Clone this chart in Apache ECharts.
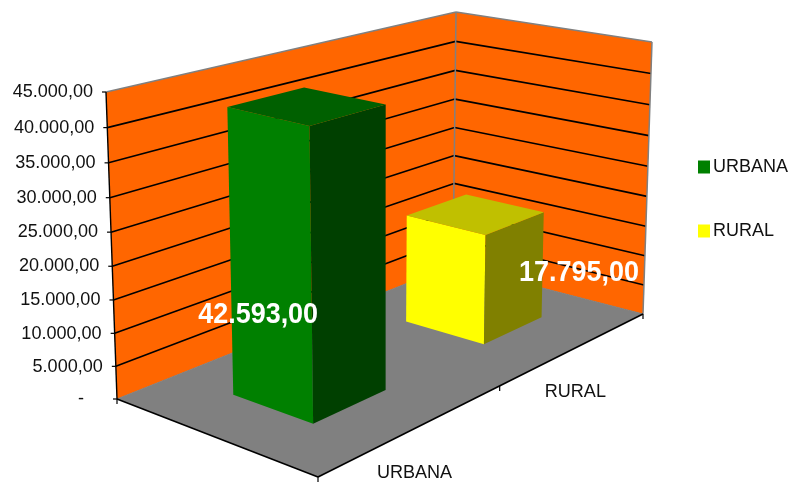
<!DOCTYPE html>
<html><head><meta charset="utf-8">
<style>html,body{margin:0;padding:0;background:#fff}#c{width:790px;height:483px}</style>
<script src="https://cdn.jsdelivr.net/npm/echarts@6/dist/echarts.min.js"></script>
</head><body><div id="c"></div>
<script>
const categories = ['URBANA', 'RURAL'];
const urbanaValues = [[0, 42593]];
const ruralValues = [[1, 17795]];
const urbanaLabel = '42.593,00';
const ruralLabel = '17.795,00';
const tickValues = [0, 5000, 10000, 15000, 20000, 25000, 30000, 35000, 40000, 45000];
const tickLabels = ['-', '5.000,00', '10.000,00', '15.000,00', '20.000,00', '25.000,00', '30.000,00', '35.000,00', '40.000,00', '45.000,00'];
const axisMax = 45000;

// Projection frame: floor and ceiling corners of the 3D box (page layout, not data)
const floorQuad = [[318, 477], [643, 314], [453, 265], [117, 399]];
const topQuad = [[313, 142], [652, 42], [456, 12], [106, 92]];
const heightWarp = 1.05, barHalfU = 0.099, barHalfV = 0.2;
const gray2 = '#808080';

function quadMap(q) {
  const [[x0,y0],[x1,y1],[x2,y2],[x3,y3]] = q;
  const dx1=x1-x2, dx2=x3-x2, sx=x0-x1+x2-x3, dy1=y1-y2, dy2=y3-y2, sy=y0-y1+y2-y3;
  const den=dx1*dy2-dx2*dy1, g=(sx*dy2-dx2*sy)/den, h=(dx1*sy-sx*dy1)/den;
  const a=x1-x0+g*x1, b=x3-x0+h*x3, d=y1-y0+g*y1, e=y3-y0+h*y3;
  return (u,v)=>{const w=g*u+h*v+1; return [(a*u+b*v+x0)/w,(d*u+e*v+y0)/w];};
}
const floorMap = quadMap(floorQuad), topMap = quadMap(topQuad);
function project(u, v, z) {
  const t = z / (z + (1 - z) * heightWarp);
  const f = floorMap(u, v), c = topMap(u, v);
  return [f[0] + (c[0] - f[0]) * t, f[1] + (c[1] - f[1]) * t];
}
const poly = (points, fill) => ({type:'polygon', silent:true, shape:{points}, style:{fill}});
const seg = (a, b, stroke, lineWidth) => ({type:'line', silent:true, shape:{x1:a[0],y1:a[1],x2:b[0],y2:b[1]}, style:{stroke, lineWidth}});
const txt = (x, y, text, opt, sx) => ({type:'text', silent:true, x, y, scaleX:sx||1, style:Object.assign({text, fontFamily:'Liberation Sans', fontSize:18, fill:'#111', textVerticalAlign:'middle'}, opt)});
const heightOf = (params, api, val) => {
  const cs = params.coordSys;
  return (cs.y + cs.height - api.coord([0, val])[1]) / cs.height;
};
const uOf = (params, api, idx) => (api.coord([idx, 0])[0] - params.coordSys.x) / params.coordSys.width;

function renderFrame(params, api) {
  const children = [
    poly([project(0,1,0), project(1,1,0), project(1,0,0), project(0,0,0)], gray2),
    poly([project(0,1,0), project(0,1,1), project(1,1,1), project(1,1,0)], '#FF6600'),
    poly([project(1,1,0), project(1,0,0), project(1,0,1), project(1,1,1)], '#FF6600')
  ];
  return {type:'group', children};
}
function renderGrid(params, api) {
  const idx = params.dataIndex, z = heightOf(params, api, api.value(0));
  const l = project(0,1,z), b = project(1,1,z), r = project(1,0,z);
  const children = [];
  const top = z >= 1, base = z <= 0;
  if (!top && !base) children.push(seg(l, b, '#000', 1.6), seg(b, r, '#000', 1.6));
  if (top) children.push(seg(l, b, gray2, 1.5), seg(b, r, gray2, 1.5));
  children.push(seg([l[0]-4, l[1]], l, '#000', 1.2));
  const shift = base ? -20 : 0;
  children.push(txt(l[0] - 13 + shift, l[1], tickLabels[idx], {textAlign:'right', fontSize:19}, 0.95));
  return {type:'group', children};
}
function renderEdges(params, api) {
  const A=project(0,1,0), A2=project(0,1,1), B=project(0,0,0), C=project(1,0,0), C2=project(1,0,1), D=project(1,1,0), D2=project(1,1,1);
  const children = [
    seg(D, D2, gray2, 1.5), seg(C, C2, gray2, 1.5),
    seg(A, D, gray2, 1), seg(D, C, gray2, 1),
    seg(A2, A, '#000', 1.4), seg(A, B, '#000', 1.6), seg(B, C, '#000', 1.6)
  ];
  [project(0,1,0), project(0,0,0), project(0.5,0,0), project(1,0,0)].forEach(p => children.push(seg(p, [p[0], p[1]+5], '#000', 1.2)));
  return {type:'group', children};
}
function renderCategory(params, api) {
  const idx = api.value(0), u = uOf(params, api, idx), p = project(u, 0, 0);
  return txt(p[0], p[1] + 44, categories[idx], {textAlign:'center', fontSize:19}, 0.95);
}
function barRenderer(colors, label, labelOffset) {
  return function (params, api) {
    const u = uOf(params, api, api.value(0)), z = heightOf(params, api, api.value(1));
    const u0=u-barHalfU, u1=u+barHalfU, v0=0.5-barHalfV, v1=0.5+barHalfV;
    const p=(a,b,c)=>project(a,b,c);
    const front = p(u0,v0,0);
    return {type:'group', children:[
      poly([p(u0,v1,0),p(u0,v0,0),p(u0,v0,z),p(u0,v1,z)], colors[0]),
      poly([p(u0,v0,0),p(u1,v0,0),p(u1,v0,z),p(u0,v0,z)], colors[2]),
      poly([p(u0,v1,z),p(u0,v0,z),p(u1,v0,z),p(u1,v1,z)], colors[1]),
      txt(front[0]+labelOffset[0], front[1]+labelOffset[1], label, {textAlign:'center', fontSize:29, fontWeight:'bold', fill:'#fff'}, 0.93)
    ]};
  };
}
const chart = echarts.init(document.getElementById('c'), null, {renderer:'canvas'});
chart.setOption({
  animation:false,
  backgroundColor:'#fff',
  textStyle:{fontFamily:'Liberation Sans'},
  grid:{left:100, right:100, top:50, bottom:50},
  xAxis:{type:'category', data:categories, show:false},
  yAxis:{type:'value', min:0, max:axisMax, interval:5000, show:false},
  legend:{data:categories, orient:'vertical', left:693, top:153, itemWidth:12, itemHeight:13, itemGap:46, icon:'rect',
    selectedMode:false, textStyle:{fontFamily:'Liberation Sans', fontSize:18, color:'#111', padding:[0,0,3,-2]}},
  series:[
    {type:'custom', name:'frame', coordinateSystem:'cartesian2d', clip:false, silent:true, data:[[0,0]], renderItem:renderFrame, z:1},
    {type:'custom', name:'grid', coordinateSystem:'cartesian2d', clip:false, silent:true, data:tickValues.map(v=>[v]), encode:{y:0}, renderItem:renderGrid, z:2},
    {type:'custom', name:'edges', coordinateSystem:'cartesian2d', clip:false, silent:true, data:[[0,0]], renderItem:renderEdges, z:3},
    {type:'custom', name:'categories', coordinateSystem:'cartesian2d', clip:false, silent:true, data:categories.map((c,i)=>[i]), encode:{x:0}, renderItem:renderCategory, z:3},
    {type:'custom', name:'URBANA', coordinateSystem:'cartesian2d', clip:false, silent:true, data:urbanaValues, encode:{x:0,y:1}, itemStyle:{color:'#008000'}, renderItem:barRenderer(['#008000','#006000','#004000'], urbanaLabel, [-55,-109]), z:4},
    {type:'custom', name:'RURAL', coordinateSystem:'cartesian2d', clip:false, silent:true, data:ruralValues, encode:{x:0,y:1}, itemStyle:{color:'#FFFF00'}, renderItem:barRenderer(['#FFFF00','#C0C000','#808000'], ruralLabel, [95,-71]), z:4}
  ]
});
</script></body></html>
